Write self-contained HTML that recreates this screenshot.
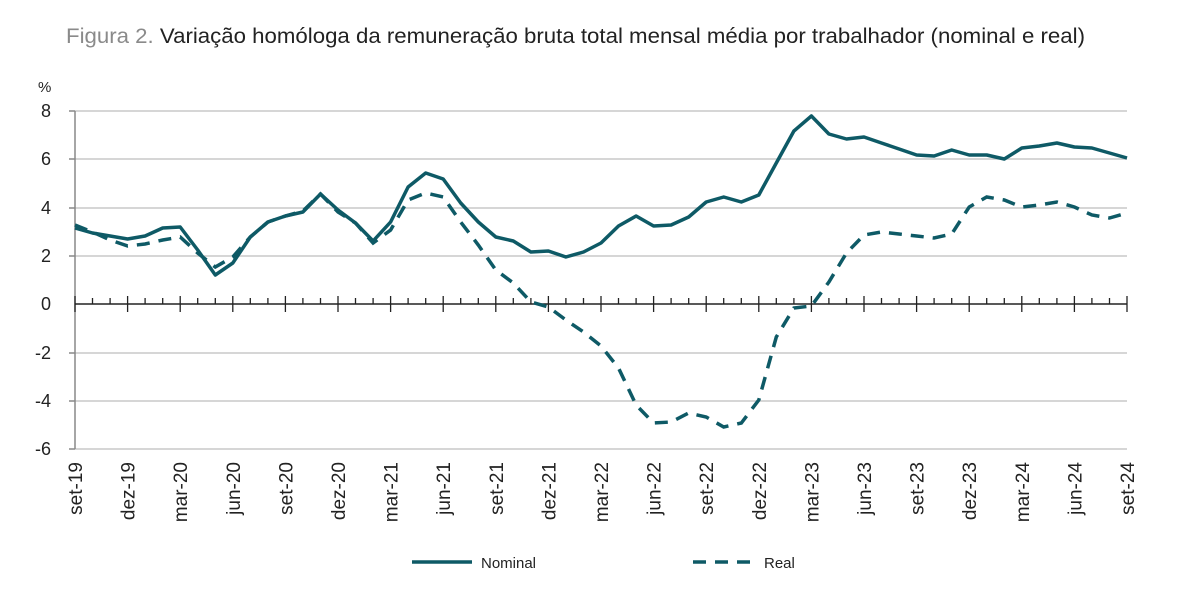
<!DOCTYPE html>
<html><head><meta charset="utf-8"><style>
body{margin:0;background:#fff;}
svg{display:block;font-family:"Liberation Sans",sans-serif;}
</style></head><body>
<svg width="1200" height="597" viewBox="0 0 1200 597">
<text x="66" y="43" font-size="21" textLength="1019" lengthAdjust="spacingAndGlyphs"><tspan fill="#8a8a8a">Figura 2. </tspan><tspan fill="#222">Variação homóloga da remuneração bruta total mensal média por trabalhador (nominal e real)</tspan></text>
<g stroke="#c8c8c8" stroke-width="1.5">
<line x1="75" y1="111" x2="1127" y2="111"/><line x1="75" y1="159" x2="1127" y2="159"/>
<line x1="75" y1="208" x2="1127" y2="208"/><line x1="75" y1="256" x2="1127" y2="256"/>
<line x1="75" y1="353" x2="1127" y2="353"/><line x1="75" y1="401" x2="1127" y2="401"/>
<line x1="75" y1="449" x2="1127" y2="449"/>
</g>
<g stroke="#888" stroke-width="1.5"><line x1="75" y1="111" x2="75" y2="449"/>
<line x1="69" y1="111" x2="75" y2="111"/><line x1="69" y1="159" x2="75" y2="159"/><line x1="69" y1="208" x2="75" y2="208"/><line x1="69" y1="256" x2="75" y2="256"/><line x1="69" y1="353" x2="75" y2="353"/><line x1="69" y1="401" x2="75" y2="401"/><line x1="69" y1="449" x2="75" y2="449"/></g>
<g font-size="18" fill="#222" text-anchor="end">
<text x="51" y="117">8</text><text x="51" y="165">6</text><text x="51" y="214">4</text><text x="51" y="262">2</text><text x="51" y="310">0</text><text x="51" y="359">-2</text><text x="51" y="407">-4</text><text x="51" y="455">-6</text>
</g>
<text x="38" y="92" font-size="15" fill="#222">%</text>
<line x1="75" y1="304" x2="1127" y2="304" stroke="#222" stroke-width="1.5"/>
<g id="ticks" stroke="#222" stroke-width="1.3"></g>
<g id="labels" font-size="19" fill="#222"></g>
<polyline id="nom" fill="none" stroke="#0e5a66" stroke-width="3.5" stroke-linejoin="round"/>
<polyline id="real" fill="none" stroke="#0e5a66" stroke-width="3.5" stroke-dasharray="13,9"/>
<line x1="412" y1="562" x2="472" y2="562" stroke="#0e5a66" stroke-width="3.5"/>
<text x="481" y="568" font-size="15" fill="#222">Nominal</text>
<line x1="693" y1="562" x2="755" y2="562" stroke="#0e5a66" stroke-width="3.5" stroke-dasharray="13,9"/>
<text x="764" y="568" font-size="15" fill="#222">Real</text>
</svg>
<script>
var x0=75,dx=(1127-75)/60;
var nom=[228,233,236,239,236,228,227,250,275,263,237,222,216,212,194,210,223,241,222,187,173,179,203,222,237,241,252,251,257,252,243,226,216,226,225,217,202,197,202,195,163,131,116,134,139,137,143,149,155,156,150,155,155,159,148,146,143,147,148,153,158];
var real=[225,232,240,246,244,240,237,253,267,257,237,222,216,211,194,212,223,243,230,200,193,197,222,245,270,283,302,307,320,332,346,368,405,423,422,413,417,427,423,400,337,308,306,282,253,235,232,234,236,238,234,207,197,200,207,205,202,207,215,218,213];
function pts(a){return a.map(function(y,i){return (x0+i*dx).toFixed(1)+","+y}).join(" ");}
document.getElementById("nom").setAttribute("points",pts(nom));
document.getElementById("real").setAttribute("points",pts(real));
var mon=["set","dez","mar","jun"],t="",l="";
for(var i=0;i<=60;i++){var x=(x0+i*dx).toFixed(1);
 if(i%3==0){t+='<line x1="'+x+'" y1="296" x2="'+x+'" y2="312"/>';
  var yr=19+Math.floor((i+8)/12);var m=mon[(i/3)%4];
  l+='<text transform="translate('+(x0+i*dx+7).toFixed(1)+',462) rotate(-90)" text-anchor="end">'+m+'-'+yr+'</text>';}
 else t+='<line x1="'+x+'" y1="298" x2="'+x+'" y2="304"/>';}
document.getElementById("ticks").innerHTML=t;
document.getElementById("labels").innerHTML=l;
</script>
</body></html>
